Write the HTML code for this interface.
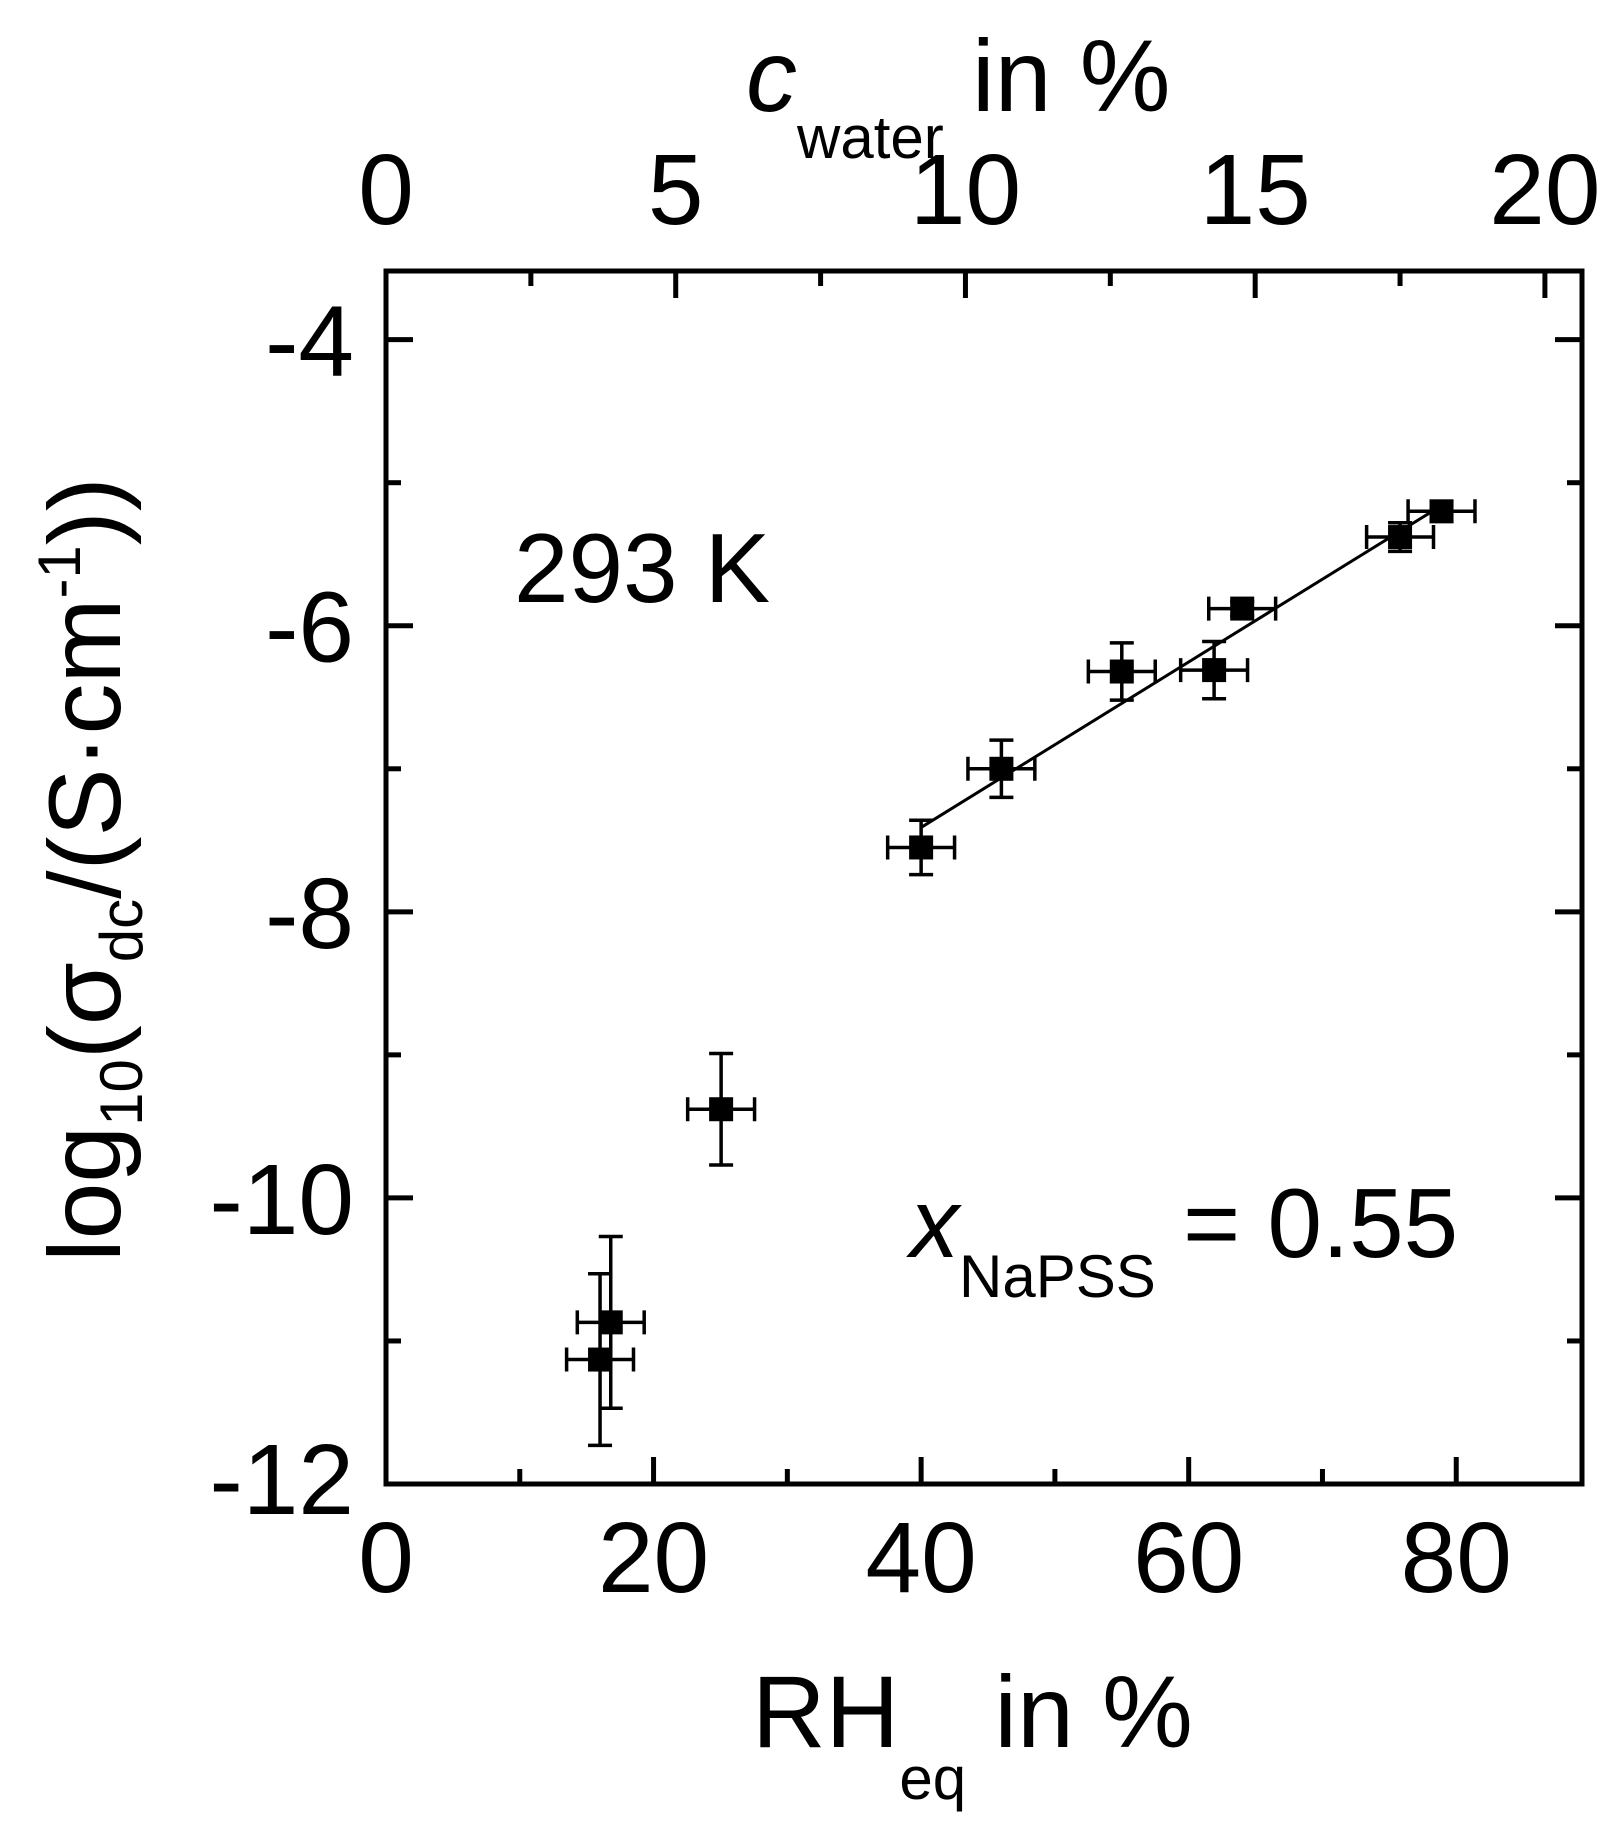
<!DOCTYPE html>
<html><head><meta charset="utf-8"><style>
html,body{margin:0;padding:0;background:#fff}
svg{display:block}
text{font-family:"Liberation Sans",Arial,sans-serif;fill:#000}
</style></head><body>
<svg id="chart" width="1620" height="1823" viewBox="0 0 1620 1823" xmlns="http://www.w3.org/2000/svg">
<g id="axes"></g>
<g id="marks"></g>
<text x="514" y="602" font-size="98">293 K</text>
<text x="910" y="1257" font-size="98"><tspan font-style="italic">x</tspan><tspan font-size="60" dy="40">NaPSS</tspan><tspan dy="-40"> = 0.55</tspan></text>
<text x="752" y="1747" font-size="102">RH<tspan font-size="60" dy="52">eq</tspan><tspan dy="-52"> in %</tspan></text>
<text x="746" y="111" font-size="102"><tspan font-style="italic">c</tspan><tspan font-size="60" dy="47">water</tspan><tspan dy="-47"> in %</tspan></text>
<text transform="translate(120,1262) rotate(-90)" font-size="102">log<tspan font-size="60" dy="22">10</tspan><tspan dy="-22">(σ</tspan><tspan font-size="60" dy="22">dc</tspan><tspan dy="-22">/(S·cm</tspan><tspan font-size="60" dy="-40">-1</tspan><tspan dy="40">))</tspan></text>
</svg>
<script>
const rh = [40, 46, 55, 61.9, 64, 75.8, 78.9, 25.05, 16.8, 16];
const logSigma = [-7.55, -7.0, -6.32, -6.31, -5.88, -5.38, -5.2, -9.38, -10.87, -11.13];
const yErr = [0.19, 0.2, 0.2, 0.2, 0.05, 0.1, 0.07, 0.39, 0.6, 0.6];
const xErr = [2.5, 2.5, 2.5, 2.5, 2.5, 2.5, 2.5, 2.5, 2.5, 2.5];
const fitX = [40, 78.9];
const fitY = [-7.41, -5.16];
const xTickLabels = ["0", "20", "40", "60", "80"];
const yTickLabels = ["-12", "-10", "-8", "-6", "-4"];
const topTickLabels = ["0", "5", "10", "15", "20"];

const L=386,R=1582,T=271,B=1484;
const X0=0,X1=89.4,Y0=-12,Y1=-3.52,C1=20.64;
const sx=v=>L+(v-X0)/(X1-X0)*(R-L);
const sy=v=>B-(v-Y0)/(Y1-Y0)*(B-T);
const sc=v=>L+v/C1*(R-L);
const NS="http://www.w3.org/2000/svg";
function mk(tag,attrs,parent){const e=document.createElementNS(NS,tag);for(const k in attrs)e.setAttribute(k,attrs[k]);parent.appendChild(e);return e;}
const axes=document.getElementById('axes'), marks=document.getElementById('marks');

let f=mk('rect',{x:L,y:T,width:R-L,height:B-T,fill:'none',stroke:'#000','stroke-width':5},axes);



for(let v=10;v<=80;v+=10){
  const major=v%20===0, len=major?27:15, x=sx(v);
  let t=mk('line',{x1:x,x2:x,y1:B,y2:B-len,stroke:'#000','stroke-width':5},axes);
  
  
}
xTickLabels.forEach(s=>{
  const v=parseFloat(s);
  let t=mk('text',{x:sx(v),y:1592,'font-size':100,'text-anchor':'middle'},axes);
  t.textContent=s;
  
  
});
for(let v=2.5;v<20.5;v+=2.5){
  const major=v%5===0, len=major?27:15, x=sc(v);
  let t=mk('line',{x1:x,x2:x,y1:T,y2:T+len,stroke:'#000','stroke-width':5},axes);
  
  
}
topTickLabels.forEach(s=>{
  const v=parseFloat(s);
  let t=mk('text',{x:sc(v),y:224,'font-size':100,'text-anchor':'middle'},axes);
  t.textContent=s;
  
  
});
for(let v=-11;v<=-4;v+=1){
  const major=v%2===0, len=major?27:15, y=sy(v);
  let t=mk('line',{x1:L,x2:L+len,y1:y,y2:y,stroke:'#000','stroke-width':5},axes);
  
  
  let t2=mk('line',{x1:R,x2:R-len,y1:y,y2:y,stroke:'#000','stroke-width':5},axes);
  
  
}
yTickLabels.forEach(s=>{
  const v=parseFloat(s);
  let y=sy(v)+36; if(v===-12) y-=6;
  let t=mk('text',{x:354,y:y,'font-size':100,'text-anchor':'end'},axes);
  t.textContent=s;
  
  
});

let fl=mk('line',{x1:sx(fitX[0]),y1:sy(fitY[0]),x2:sx(fitX[1]),y2:sy(fitY[1]),stroke:'#000','stroke-width':3},marks);



rh.forEach((xv,i)=>{
  const yv=logSigma[i], cx=sx(xv), cy=sy(yv);
  const g=mk('g',{},marks);
  
  
  const x1=sx(xv-xErr[i]), x2=sx(xv+xErr[i]), y1=sy(yv+yErr[i]), y2=sy(yv-yErr[i]);
  const st={stroke:'#000','stroke-width':3.5,fill:'none'};
  mk('path',Object.assign({d:`M${x1},${cy}H${x2}M${x1},${cy-12}V${cy+12}M${x2},${cy-12}V${cy+12}`},st),g);
  mk('path',Object.assign({d:`M${cx},${y1}V${y2}M${cx-12},${y1}H${cx+12}M${cx-12},${y2}H${cx+12}`},st),g);
  mk('rect',{x:cx-12,y:cy-12,width:24,height:24,fill:'#000'},g);
});
</script>
</body></html>
